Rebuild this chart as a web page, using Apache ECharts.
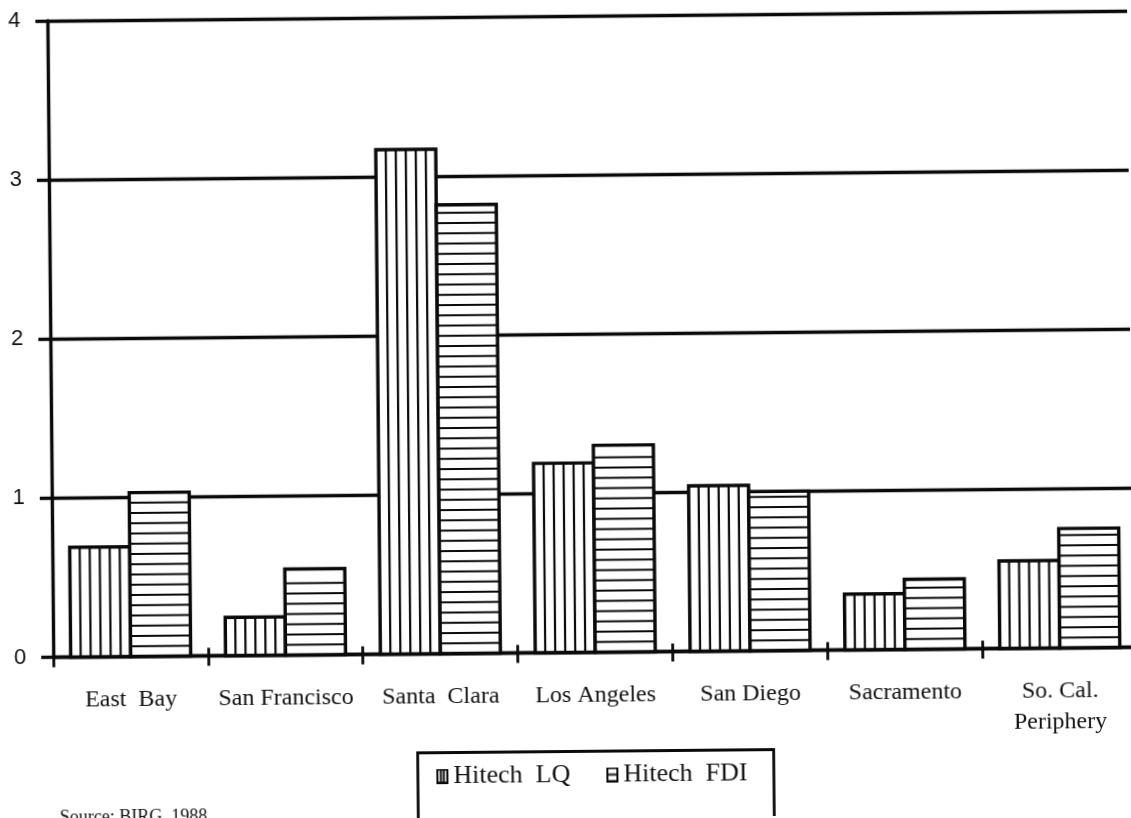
<!DOCTYPE html>
<html>
<head>
<meta charset="utf-8">
<script src="https://cdn.jsdelivr.net/npm/echarts@6/dist/echarts.min.js"></script>
<style>
  html, body { margin: 0; padding: 0; background: #fff; overflow: hidden; }
  #chart { width: 1131px; height: 818px; transform: rotate(-0.53deg); transform-origin: 50% 50%; }
</style>
</head>
<body>
<div id="chart"></div>
<script>
// Regional high-tech location quotient vs. foreign direct investment index
const regions = ['East  Bay', 'San Francisco', 'Santa  Clara', 'Los Angeles', 'San Diego', 'Sacramento', 'So. Cal.\nPeriphery'];
const hitechLQ = [0.69, 0.24, 3.17, 1.19, 1.04, 0.35, 0.55];
const hitechFDI = [1.03, 0.54, 2.82, 1.30, 1.00, 0.44, 0.75];
const yTicks = [0, 1, 2, 3, 4];
const seriesNames = ['Hitech  LQ', 'Hitech  FDI'];
const sourceNote = 'Source: BIRG, 1988';

const BAR_W = 60;          // width of each bar in px
const V_RULES = 5;         // interior vertical rules in an LQ bar
const H_STEP = 10.25;      // spacing of horizontal rules in an FDI bar
const INK = '#0a0a0a';

function legendIcon(vertical) {
  const c = document.createElement('canvas');
  c.width = 12; c.height = 15;
  const g = c.getContext('2d');
  g.fillStyle = '#fff';
  g.fillRect(0, 0, 12, 15);
  g.strokeStyle = INK;
  g.lineWidth = 2;
  g.strokeRect(1, 1, 10, 13);
  g.beginPath();
  if (vertical) {
    g.moveTo(4.5, 1); g.lineTo(4.5, 14);
    g.moveTo(7.5, 1); g.lineTo(7.5, 14);
  } else {
    g.moveTo(1, 7.5); g.lineTo(11, 7.5);
  }
  g.stroke();
  return 'image://' + c.toDataURL();
}

// one hatched bar: white box, rules, then the outline on top
function hatchedBar(vertical) {
  return function (params, api) {
    const idx = api.value(0);
    const top = api.coord([idx, api.value(1)]);
    const bot = api.coord([idx, 0]);
    const x0 = vertical ? top[0] - BAR_W : top[0];
    const y0 = top[1];
    const h = bot[1] - top[1];
    const children = [{
      type: 'rect', shape: { x: x0, y: y0, width: BAR_W, height: h },
      style: { fill: '#fff', stroke: null }
    }];
    const ruleStyle = { stroke: INK, lineWidth: 2.2 };
    if (vertical) {
      for (let k = 1; k <= V_RULES; k++) {
        const x = x0 + k * BAR_W / (V_RULES + 1);
        children.push({ type: 'line', shape: { x1: x, y1: y0, x2: x, y2: bot[1] }, style: ruleStyle });
      }
    } else {
      for (let y = bot[1] - H_STEP; y > y0 + 4; y -= H_STEP) {
        children.push({ type: 'line', shape: { x1: x0, y1: y, x2: x0 + BAR_W, y2: y }, style: ruleStyle });
      }
    }
    children.push({
      type: 'rect', shape: { x: x0, y: y0, width: BAR_W, height: h },
      style: { fill: null, stroke: INK, lineWidth: 3.4 }
    });
    return { type: 'group', children: children };
  };
}

const chart = echarts.init(document.getElementById('chart'), null, { renderer: 'canvas' });

const option = {
  animation: false,
  backgroundColor: '#fff',
  grid: { left: 51, top: 16, right: -4, bottom: 165.5, containLabel: false, outerBoundsMode: 'none' },
  legend: {
    left: 433, top: 762, padding: 0,
    itemWidth: 12, itemHeight: 15, itemGap: 36,
    selectedMode: false,
    textStyle: { fontFamily: '"Liberation Serif", serif', fontSize: 26, color: '#111', lineHeight: 22 },
    data: [
      { name: seriesNames[0], icon: legendIcon(true) },
      { name: seriesNames[1], icon: legendIcon(false) }
    ]
  },
  graphic: [
    { type: 'rect', left: 412, top: 749, shape: { width: 356, height: 120 },
      style: { fill: 'none', stroke: INK, lineWidth: 2.8 }, silent: true },
    { type: 'text', left: 56, top: 804, silent: true,
      style: { text: sourceNote, font: '18px "Liberation Serif", serif', fill: '#111' } }
  ],
  xAxis: [
    {
      type: 'category', data: regions, boundaryGap: true, position: 'bottom',
      axisLine: { show: true, lineStyle: { color: INK, width: 3.4 } },
      axisTick: { show: true, interval: 0, length: 10, lineStyle: { color: INK, width: 2.8 } },
      axisLabel: {
        interval: 0, margin: 28, lineHeight: 31, hideOverlap: false,
        fontFamily: '"Liberation Serif", serif', fontSize: 24, color: '#111'
      },
      splitLine: { show: false }
    },
    {
      type: 'category', data: regions, boundaryGap: true, position: 'bottom',
      axisLine: { show: false },
      axisTick: { show: true, inside: true, interval: 0, length: 8, lineStyle: { color: INK, width: 2.8 } },
      axisLabel: { show: false },
      splitLine: { show: false }
    }
  ],
  yAxis: {
    type: 'value',
    min: yTicks[0], max: yTicks[yTicks.length - 1], interval: yTicks[1] - yTicks[0],
    axisLine: { show: true, lineStyle: { color: INK, width: 3.4 } },
    axisTick: { show: true, length: 12, lineStyle: { color: INK, width: 3.4 } },
    axisLabel: { margin: 27, fontFamily: '"Liberation Sans", sans-serif', fontSize: 22, color: '#111' },
    splitLine: { show: true, lineStyle: { color: INK, width: 3.4 } }
  },
  series: [
    {
      name: seriesNames[0], type: 'custom', xAxisIndex: 0, yAxisIndex: 0, silent: true,
      itemStyle: { color: '#fff', borderColor: INK },
      renderItem: hatchedBar(true),
      encode: { x: 0, y: 1 },
      data: hitechLQ.map(function (v, i) { return [i, v]; })
    },
    {
      name: seriesNames[1], type: 'custom', xAxisIndex: 0, yAxisIndex: 0, silent: true,
      itemStyle: { color: '#fff', borderColor: INK },
      renderItem: hatchedBar(false),
      encode: { x: 0, y: 1 },
      data: hitechFDI.map(function (v, i) { return [i, v]; })
    }
  ]
};

chart.setOption(option);
</script>
</body>
</html>
